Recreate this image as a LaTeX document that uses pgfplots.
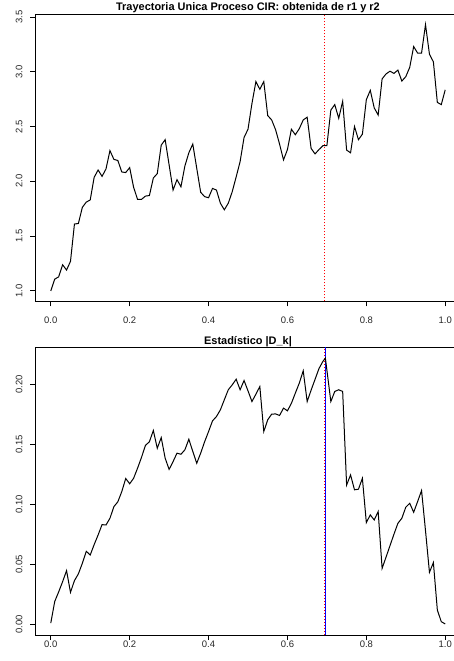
\documentclass[border=0pt]{standalone}
\usepackage{fontspec}
\setmainfont{Liberation Sans}
\usepackage{pgfplots}
\pgfplotsset{compat=1.18}
\definecolor{rred}{rgb}{1,0,0}
\definecolor{rblue}{rgb}{0,0,1}
\begin{document}
\begin{tikzpicture}
\pgfplotsset{
  rstyle/.style={
    scale only axis, width=426bp, height=287.5bp,
    xmin=-0.04, xmax=1.04,
    axis line style={line width=0.8bp, black},
    every tick/.style={line width=0.8bp, black},
    tick align=outside, major tick length=5bp,
    xtick={0,0.2,0.4,0.6,0.8,1.0},
    xtick pos=bottom, ytick pos=left,
    /pgf/number format/assume math mode=true,
    tick label style={font=\fontsize{9.5}{11}\selectfont, text=black!85},
    xticklabel={\pgfmathprintnumber[fixed,fixed zerofill,precision=1]{\tick}},
    yticklabel style={xshift=-7.6bp, rotate=90, anchor=base, inner sep=0pt},
    title style={font=\fontsize{11}{13}\selectfont\bfseries, at={(0.5,1)}, anchor=base, yshift=-2.5bp, inner sep=0pt},
  }
}
\begin{axis}[rstyle, at={(35bp,359.5bp)}, anchor=south west,
  ymin=0.903, ymax=3.527,
  ytick={1.0,1.5,2.0,2.5,3.0,3.5},
  yticklabel={\pgfmathprintnumber[fixed,fixed zerofill,precision=1]{\tick}},
  xticklabel style={anchor=north, inner sep=0pt, yshift=-9.7bp},
  title={Trayectoria Unica Proceso CIR: obtenida de r1 y r2}]
\addplot[draw=rred, line width=0.9bp, dash pattern=on 1bp off 2bp, mark=none] coordinates {(0.695,0.903) (0.695,3.527)};
\addplot[black, line width=1bp, mark=none] coordinates {
(0.00,1.00) (0.01,1.107) (0.02,1.128) (0.03,1.238) (0.04,1.19) (0.05,1.27) (0.06,1.61) (0.07,1.615) (0.08,1.762) (0.09,1.81)
(0.10,1.83) (0.11,2.037) (0.12,2.103) (0.13,2.045) (0.14,2.113) (0.15,2.28) (0.16,2.20) (0.17,2.19) (0.18,2.085) (0.19,2.08)
(0.20,2.125) (0.21,1.945) (0.22,1.835) (0.23,1.835) (0.24,1.865) (0.25,1.87) (0.26,2.03) (0.27,2.07) (0.28,2.33) (0.29,2.38)
(0.30,2.15) (0.31,1.92) (0.32,2.015) (0.33,1.95) (0.34,2.14) (0.35,2.26) (0.36,2.34) (0.37,2.12) (0.38,1.90) (0.39,1.86)
(0.40,1.85) (0.41,1.935) (0.42,1.92) (0.43,1.80) (0.44,1.74) (0.45,1.80) (0.46,1.905) (0.47,2.04) (0.48,2.18) (0.49,2.40)
(0.50,2.475) (0.51,2.71) (0.52,2.91) (0.53,2.84) (0.54,2.91) (0.55,2.60) (0.56,2.56) (0.57,2.47) (0.58,2.34) (0.59,2.195)
(0.60,2.29) (0.61,2.475) (0.62,2.425) (0.63,2.48) (0.64,2.56) (0.65,2.585) (0.66,2.30) (0.67,2.25) (0.68,2.29) (0.69,2.325)
(0.70,2.325) (0.71,2.65) (0.72,2.70) (0.73,2.575) (0.74,2.73) (0.75,2.285) (0.76,2.26) (0.77,2.50) (0.78,2.38) (0.79,2.43)
(0.80,2.745) (0.81,2.83) (0.82,2.67) (0.83,2.605) (0.84,2.935) (0.85,2.98) (0.86,3.005) (0.87,2.985) (0.88,3.015) (0.89,2.915)
(0.90,2.955) (0.91,3.04) (0.92,3.23) (0.93,3.17) (0.94,3.17) (0.95,3.43) (0.96,3.16) (0.97,3.09) (0.98,2.72) (0.99,2.70)
(1.00,2.835)};
\end{axis}
\begin{axis}[rstyle, at={(35bp,26bp)}, anchor=south west,
  ymin=-0.0089, ymax=0.2305,
  ytick={0,0.05,0.10,0.15,0.20},
  yticklabel={\pgfmathprintnumber[fixed,fixed zerofill,precision=2]{\tick}},
  xticklabel style={anchor=north, inner sep=0pt, yshift=-0.8bp},
  title={Estadístico |D\_k|}]
\addplot[draw=rred, line width=0.8bp, dash pattern=on 1bp off 2bp, mark=none] coordinates {(0.6932,-0.0089) (0.6932,0.2305)};
\addplot[draw=rblue, line width=1bp, mark=none] coordinates {(0.6962,-0.0089) (0.6962,0.2305)};
\addplot[black, line width=1bp, mark=none] coordinates {
(0.00,0.001) (0.01,0.019) (0.02,0.027) (0.03,0.0355) (0.04,0.0447) (0.05,0.0266) (0.06,0.0364) (0.07,0.042) (0.08,0.0508) (0.09,0.0608)
(0.10,0.0577) (0.11,0.0664) (0.12,0.0744) (0.13,0.083) (0.14,0.0827) (0.15,0.0883) (0.16,0.098) (0.17,0.102) (0.18,0.1105) (0.19,0.1214)
(0.20,0.117) (0.21,0.1216) (0.22,0.130) (0.23,0.139) (0.24,0.149) (0.25,0.152) (0.26,0.1614) (0.27,0.1466) (0.28,0.1555) (0.29,0.1383)
(0.30,0.129) (0.31,0.1355) (0.32,0.1425) (0.33,0.1416) (0.34,0.1453) (0.35,0.1541) (0.36,0.144) (0.37,0.1341) (0.38,0.1425) (0.39,0.152)
(0.40,0.1605) (0.41,0.1694) (0.42,0.173) (0.43,0.1786) (0.44,0.187) (0.45,0.1953) (0.46,0.1994) (0.47,0.2041) (0.48,0.1953) (0.49,0.2030)
(0.50,0.1944) (0.51,0.1855) (0.52,0.1916) (0.53,0.198) (0.54,0.1605) (0.55,0.1703) (0.56,0.175) (0.57,0.1752) (0.58,0.1739) (0.59,0.18)
(0.60,0.1778) (0.61,0.184) (0.62,0.1925) (0.63,0.2008) (0.64,0.2111) (0.65,0.1855) (0.66,0.195) (0.67,0.204) (0.68,0.213) (0.69,0.219)
(0.6962,0.2216) (0.71,0.1855) (0.72,0.1939) (0.73,0.1953) (0.74,0.1939) (0.75,0.116) (0.76,0.1244) (0.77,0.112) (0.78,0.1125) (0.79,0.1216)
(0.80,0.0847) (0.81,0.0911) (0.82,0.0869) (0.83,0.0939) (0.84,0.0466) (0.85,0.056) (0.86,0.0655) (0.87,0.075) (0.88,0.0841) (0.89,0.0883)
(0.90,0.0975) (0.91,0.1008) (0.92,0.0933) (0.93,0.1022) (0.94,0.1114) (0.95,0.078) (0.96,0.0433) (0.97,0.0514) (0.98,0.0119) (0.99,0.0022)
(1.00,0.0003)};
\end{axis}
\pgfresetboundingbox
\path (0,0) rectangle (454bp,661bp);
\end{tikzpicture}
\end{document}
